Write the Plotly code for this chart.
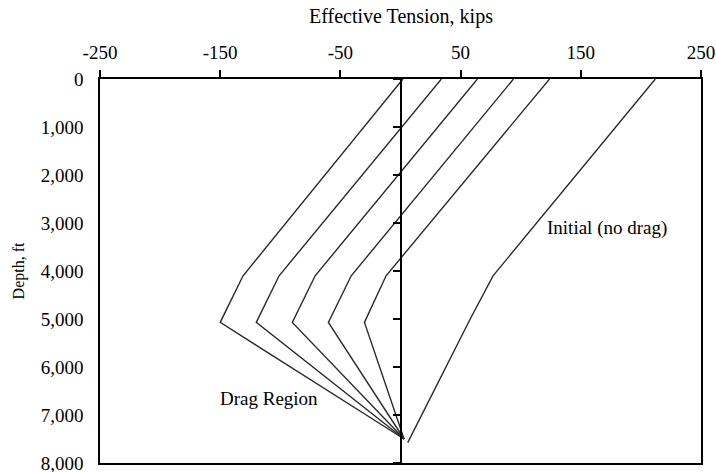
import plotly.graph_objects as go

# Effective tension (kips) vs depth (ft)
depth_drag = [0, 4100, 5070, 7500]
drag_1 = [2, -131, -150, 3]
drag_2 = [34, -101, -120, 3]
drag_3 = [64, -71, -90, 3]
drag_4 = [94, -41, -60, 3]
drag_5 = [124, -12, -30, 3]

depth_initial = [0, 4100, 5000, 7575]
initial = [212, 77, 58, 6]

x_tickvals = [-250, -150, -50, 50, 150, 250]
x_ticktext = ["-250", "-150", "-50", "50", "150", "250"]
y_tickvals = [0, 1000, 2000, 3000, 4000, 5000, 6000, 7000, 8000]
y_ticktext = ["0", "1,000", "2,000", "3,000", "4,000", "5,000", "6,000", "7,000", "8,000"]

FONT = "Liberation Serif, Times New Roman, serif"
LINE_COLOR = "#2a2a2a"

fig = go.Figure()
for s in [drag_1, drag_2, drag_3, drag_4, drag_5]:
    fig.add_trace(go.Scatter(x=s, y=depth_drag, mode="lines",
                             line=dict(color=LINE_COLOR, width=1.4),
                             showlegend=False, hoverinfo="skip"))
fig.add_trace(go.Scatter(x=initial, y=depth_initial, mode="lines",
                         line=dict(color=LINE_COLOR, width=1.4),
                         showlegend=False, hoverinfo="skip"))
# invisible trace for the axis drawn at x = 0
fig.add_trace(go.Scatter(x=[0], y=[0], yaxis="y2", mode="markers",
                         marker=dict(opacity=0), showlegend=False, hoverinfo="skip"))

fig.update_layout(
    width=716, height=472,
    margin=dict(l=100, r=15, t=79, b=9),
    paper_bgcolor="white", plot_bgcolor="white",
    font=dict(family=FONT, size=19, color="black"),
    xaxis=dict(
        range=[-250, 250], side="top", automargin=False, ticklabeloverflow="allow",
        tickvals=x_tickvals, ticktext=x_ticktext,
        ticks="outside", ticklen=7, tickwidth=1.5, tickcolor="black",
        showline=True, linecolor="black", linewidth=1.5, mirror=True,
        showgrid=False, zeroline=False, ticklabelstandoff=4,
        tickfont=dict(family=FONT, size=19, color="black"),
    ),
    yaxis=dict(
        range=[8000, 0], automargin=False, ticklabeloverflow="allow",
        tickvals=y_tickvals, ticktext=y_ticktext,
        ticks="", showline=True, linecolor="black", linewidth=1.5, mirror=True,
        showgrid=False, zeroline=False, ticklabelstandoff=11,
        tickfont=dict(family=FONT, size=19, color="black"),
        title=dict(text="Depth, ft", font=dict(family=FONT, size=16, color="black"), standoff=12),
    ),
    yaxis2=dict(
        range=[8000, 0], overlaying="y", anchor="free", position=0.5, side="left",
        automargin=False,
        tickvals=y_tickvals, showticklabels=False,
        ticks="outside", ticklen=7, tickwidth=1.5, tickcolor="black",
        showline=True, linecolor="black", linewidth=1.5,
        showgrid=False, zeroline=False,
    ),
    annotations=[
        dict(text="Effective Tension, kips", xref="paper", yref="paper",
             x=0.5, y=(384 + 63) / 384, xanchor="center", yanchor="middle",
             showarrow=False, font=dict(family=FONT, size=20, color="black")),
        dict(text="Initial (no drag)", x=120, y=3100, xanchor="left", yanchor="middle",
             showarrow=False, font=dict(family=FONT, size=19, color="black")),
        dict(text="Drag Region", x=-152, y=6650, xanchor="left", yanchor="middle",
             showarrow=False, font=dict(family=FONT, size=19, color="black")),
    ],
)

fig.write_html("out.html", config={"displayModeBar": False},
               post_script="document.body.style.margin='0';document.body.style.overflow='hidden';")
